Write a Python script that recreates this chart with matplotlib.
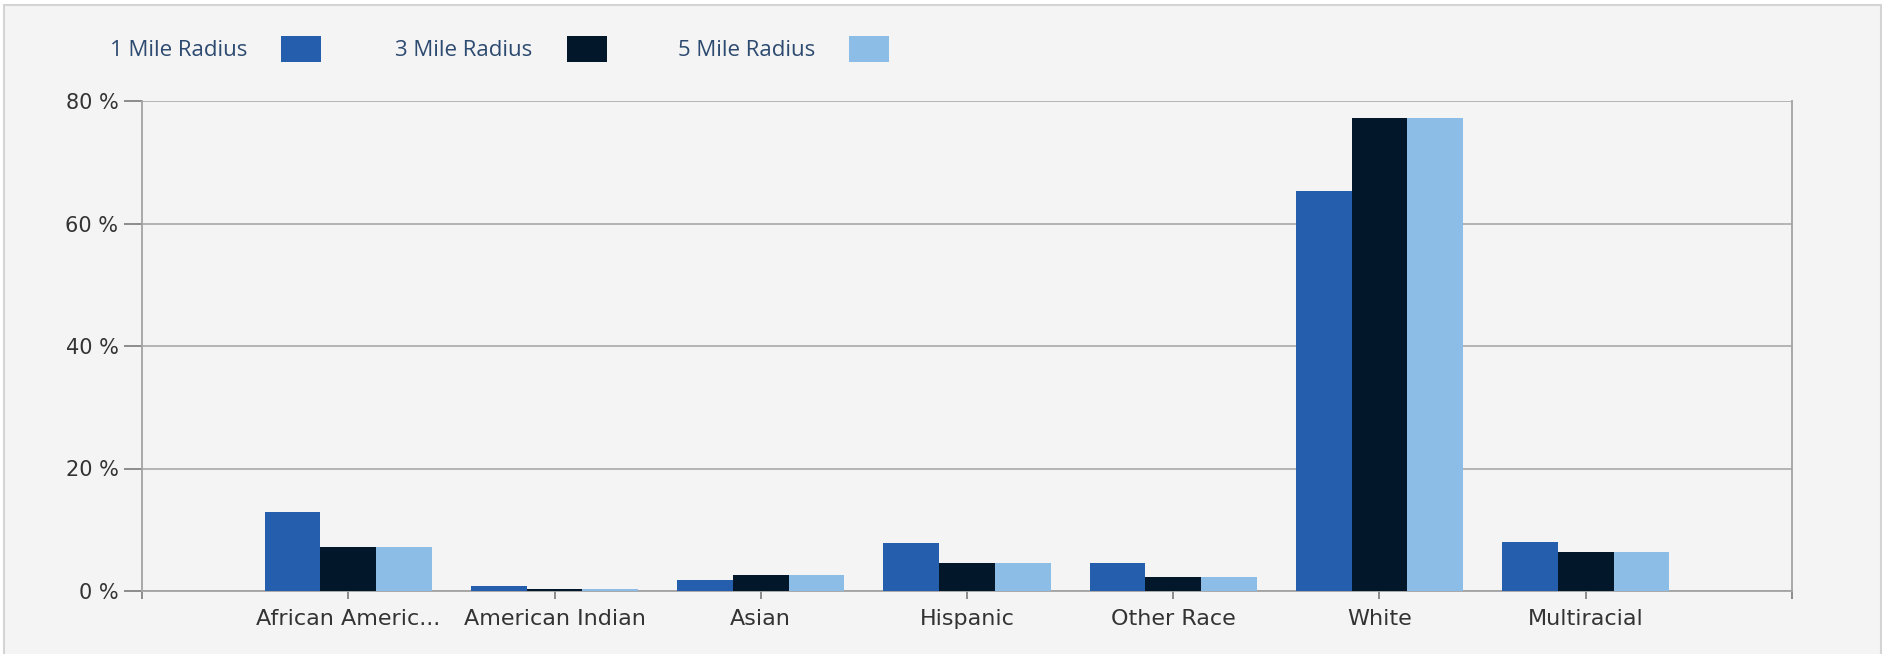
import matplotlib
matplotlib.use("Agg")
import matplotlib.pyplot as plt
from matplotlib.patches import Rectangle
import numpy as np

plt.rcParams['font.family'] = ['DejaVu Sans']

categories = ["African Americ...", "American Indian", "Asian", "Hispanic",
              "Other Race", "White", "Multiracial"]
series_names = ["1 Mile Radius", "3 Mile Radius", "5 Mile Radius"]
mile1 = [12.85, 0.87, 1.74, 7.78, 4.63, 65.3, 8.0]
mile3 = [7.13, 0.33, 2.56, 4.63, 2.34, 77.2, 6.37]
mile5 = [7.13, 0.27, 2.56, 4.63, 2.34, 77.2, 6.37]
y_ticks = [0, 20, 40, 60, 80]
y_tick_labels = ["0 %", "20 %", "40 %", "60 %", "80 %"]

colors = ["#265eae", "#021729", "#8bbde6"]
bg = "#f4f4f4"
axis_gray = "#a3a3a3"

W, H = 1883, 654
fig = plt.figure(figsize=(W / 100, H / 100), dpi=100)
fig.patch.set_facecolor("white")

# Panel background with thin border
fig.patches.append(Rectangle((4 / W, -0.01), (1881 - 4) / W, (H - 5) / H + 0.01,
                             transform=fig.transFigure, facecolor=bg,
                             edgecolor="#d4d4d4", linewidth=1.5, zorder=-10))

ax = fig.add_axes([142 / W, 63 / H, (1792 - 142) / W, (591 - 101) / H])
ax.set_zorder(5)
ax.patch.set_alpha(0)

x = np.arange(1, len(categories) + 1)
bw = 0.27
for i, vals in enumerate([mile1, mile3, mile5]):
    ax.bar(x + (i - 1) * bw, vals, width=bw, color=colors[i],
           edgecolor="none", zorder=3)

ax.set_xlim(0, 8)
ax.set_ylim(0, 80)

ax.set_yticks(y_ticks)
ax.set_yticklabels(y_tick_labels)
ax.set_xticks(list(range(0, 9)))
ax.set_xticklabels([""] + categories + [""])

ax.yaxis.grid(True, color=axis_gray, linewidth=1.1, zorder=1)
ax.set_axisbelow(True)

ax.spines["top"].set_visible(False)
for side in ["left", "right", "bottom"]:
    ax.spines[side].set_color(axis_gray)
    ax.spines[side].set_linewidth(1.3)

ax.tick_params(axis="y", length=13, width=1.2, color="#7a7a7a", pad=4,
               labelsize=15, labelcolor="#333333")
ax.tick_params(axis="x", length=6, width=1.2, color="#7a7a7a", pad=7,
               labelsize=16, labelcolor="#333333")

# Legend row: label followed by its color swatch
legend_text_x = [110, 395, 678]
legend_patch_x = [281, 567, 849]
for name, tx, px, c in zip(series_names, legend_text_x, legend_patch_x, colors):
    fig.text(tx / W, 1 - 51 / H, name, ha="left", va="center",
             fontsize=16, color="#2d4a70", family=["Open Sans", "DejaVu Sans"])
    fig.patches.append(Rectangle((px / W, 1 - 62 / H), 40 / W, 26 / H,
                                 transform=fig.transFigure, facecolor=c,
                                 edgecolor="none", zorder=2))

fig.savefig("out.png", dpi=100, facecolor=fig.get_facecolor())
